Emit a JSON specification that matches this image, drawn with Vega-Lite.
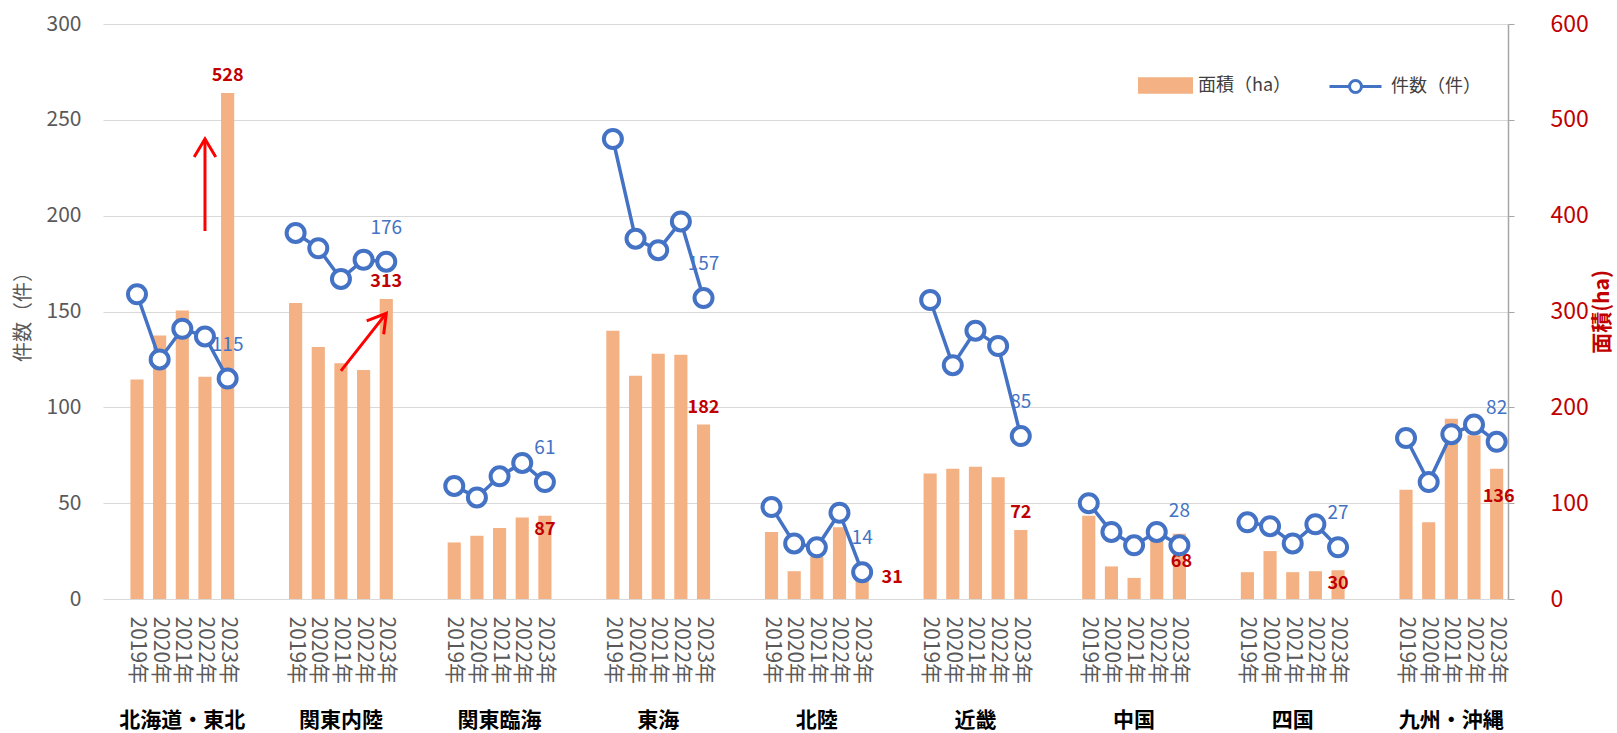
{
  "$schema": "https://vega.github.io/schema/vega-lite/v6.json",
  "autosize": {"type": "none"},
  "padding": {"left": 103, "top": 24, "right": 109, "bottom": 134},
  "width": 1405,
  "height": 575,
  "background": "white",
  "config": {
    "view": {"stroke": null},
    "font": "Noto Sans CJK JP",
    "legend": {"padding": 0, "titlePadding": 0}
  },
  "datasets": {
    "main": [
      {"k": "A2019", "region": "北海道・東北", "year": "2019", "area": 229, "count": 159},
      {"k": "A2020", "region": "北海道・東北", "year": "2020", "area": 275, "count": 125},
      {"k": "A2021", "region": "北海道・東北", "year": "2021", "area": 301, "count": 141},
      {"k": "A2022", "region": "北海道・東北", "year": "2022", "area": 232, "count": 137},
      {"k": "A2023", "region": "北海道・東北", "year": "2023", "area": 528, "count": 115},
      {"k": "B2019", "region": "関東内陸", "year": "2019", "area": 309, "count": 191},
      {"k": "B2020", "region": "関東内陸", "year": "2020", "area": 263, "count": 183},
      {"k": "B2021", "region": "関東内陸", "year": "2021", "area": 246, "count": 167},
      {"k": "B2022", "region": "関東内陸", "year": "2022", "area": 239, "count": 177},
      {"k": "B2023", "region": "関東内陸", "year": "2023", "area": 313, "count": 176},
      {"k": "C2019", "region": "関東臨海", "year": "2019", "area": 59, "count": 59},
      {"k": "C2020", "region": "関東臨海", "year": "2020", "area": 66, "count": 53},
      {"k": "C2021", "region": "関東臨海", "year": "2021", "area": 74, "count": 64},
      {"k": "C2022", "region": "関東臨海", "year": "2022", "area": 85, "count": 71},
      {"k": "C2023", "region": "関東臨海", "year": "2023", "area": 87, "count": 61},
      {"k": "D2019", "region": "東海", "year": "2019", "area": 280, "count": 240},
      {"k": "D2020", "region": "東海", "year": "2020", "area": 233, "count": 188},
      {"k": "D2021", "region": "東海", "year": "2021", "area": 256, "count": 182},
      {"k": "D2022", "region": "東海", "year": "2022", "area": 255, "count": 197},
      {"k": "D2023", "region": "東海", "year": "2023", "area": 182, "count": 157},
      {"k": "E2019", "region": "北陸", "year": "2019", "area": 70, "count": 48},
      {"k": "E2020", "region": "北陸", "year": "2020", "area": 29, "count": 29},
      {"k": "E2021", "region": "北陸", "year": "2021", "area": 44, "count": 27},
      {"k": "E2022", "region": "北陸", "year": "2022", "area": 75, "count": 45},
      {"k": "E2023", "region": "北陸", "year": "2023", "area": 31, "count": 14},
      {"k": "F2019", "region": "近畿", "year": "2019", "area": 131, "count": 156},
      {"k": "F2020", "region": "近畿", "year": "2020", "area": 136, "count": 122},
      {"k": "F2021", "region": "近畿", "year": "2021", "area": 138, "count": 140},
      {"k": "F2022", "region": "近畿", "year": "2022", "area": 127, "count": 132},
      {"k": "F2023", "region": "近畿", "year": "2023", "area": 72, "count": 85},
      {"k": "G2019", "region": "中国", "year": "2019", "area": 87, "count": 50},
      {"k": "G2020", "region": "中国", "year": "2020", "area": 34, "count": 35},
      {"k": "G2021", "region": "中国", "year": "2021", "area": 22, "count": 28},
      {"k": "G2022", "region": "中国", "year": "2022", "area": 61, "count": 35},
      {"k": "G2023", "region": "中国", "year": "2023", "area": 68, "count": 28},
      {"k": "H2019", "region": "四国", "year": "2019", "area": 28, "count": 40},
      {"k": "H2020", "region": "四国", "year": "2020", "area": 50, "count": 38},
      {"k": "H2021", "region": "四国", "year": "2021", "area": 28, "count": 29},
      {"k": "H2022", "region": "四国", "year": "2022", "area": 29, "count": 39},
      {"k": "H2023", "region": "四国", "year": "2023", "area": 30, "count": 27},
      {"k": "I2019", "region": "九州・沖縄", "year": "2019", "area": 114, "count": 84},
      {"k": "I2020", "region": "九州・沖縄", "year": "2020", "area": 80, "count": 61},
      {"k": "I2021", "region": "九州・沖縄", "year": "2021", "area": 188, "count": 86},
      {"k": "I2022", "region": "九州・沖縄", "year": "2022", "area": 171, "count": 91},
      {"k": "I2023", "region": "九州・沖縄", "year": "2023", "area": 136, "count": 82}
    ],
    "arrows": [
      {"arrow": 1, "k": "A2022", "v": 192, "end": "tail"},
      {"arrow": 1, "k": "A2022", "v": 240, "end": "head"},
      {"arrow": 2, "k": "B2021", "v": 119, "end": "tail"},
      {"arrow": 2, "k": "B2023", "v": 149, "end": "head"}
    ]
  },
  "layer": [
    {
      "data": {"name": "main"},
      "encoding": {
        "x": {
          "field": "k", "type": "nominal", "sort": null,
          "scale": {"type": "band", "paddingInner": 0.42, "paddingOuter": 0.21,
            "domain": ["_0","A2019","A2020","A2021","A2022","A2023","_A1","_A2","B2019","B2020","B2021","B2022","B2023","_B1","_B2","C2019","C2020","C2021","C2022","C2023","_C1","_C2","D2019","D2020","D2021","D2022","D2023","_D1","_D2","E2019","E2020","E2021","E2022","E2023","_E1","_E2","F2019","F2020","F2021","F2022","F2023","_F1","_F2","G2019","G2020","G2021","G2022","G2023","_G1","_G2","H2019","H2020","H2021","H2022","H2023","_H1","_H2","I2019","I2020","I2021","I2022","I2023"]},
          "axis": {
            "orient": "bottom",
            "title": null, "ticks": false, "domain": false, "grid": false,
            "labelExpr": "length(datum.value) == 5 ? substring(datum.value, 1) + '年' : ''",
            "labelAngle": 90, "labelFontSize": 21, "labelColor": "#595959",
            "labelPadding": 17, "labelOverlap": false, "labelBound": false
          }
        },
        "y": {
          "field": "area", "type": "quantitative",
          "scale": {"domain": [0, 600], "nice": false},
          "axis": {
            "orient": "right", "values": [0, 100, 200, 300, 400, 500, 600],
            "grid": false, "domain": true, "domainColor": "#A6A6A6", "domainWidth": 1.5,
            "ticks": true, "tickColor": "#A6A6A6", "tickSize": 6,
            "labelColor": "#C00000", "labelFontSize": 23, "labelPadding": 36,
            "title": "面積(ha)", "titleColor": "#C00000", "titleFontSize": 21,
            "titleFontWeight": "bold", "titleAngle": 270, "titlePadding": 24
          }
        }
      },
      "layer": [
        {
          "mark": {"type": "bar"},
          "encoding": {
            "color": {
              "datum": "面積（ha）",
              "scale": {"domain": ["面積（ha）"], "range": ["#F4B183"]},
              "legend": {
                "title": null, "orient": "none", "legendX": 1035, "legendY": 34,
                "symbolType": "M-1,-0.3H1V0.3H-1Z", "symbolSize": 3025,
                "symbolStrokeWidth": 0, "labelOffset": 5,
                "labelFontSize": 18, "labelColor": "#404040"
              }
            }
          }
        },
        {
          "transform": [{"filter": "datum.year == '2023' && indexof(['北海道・東北','関東内陸','東海','近畿'], datum.region) >= 0"}],
          "mark": {"type": "text", "fontWeight": "bold", "fontSize": 18, "color": "#C00000", "baseline": "bottom", "dy": -8},
          "encoding": {"text": {"field": "area", "type": "quantitative"}}
        },
        {
          "transform": [{"filter": "datum.year == '2023' && indexof(['関東臨海','四国'], datum.region) >= 0"}],
          "mark": {"type": "text", "fontWeight": "bold", "fontSize": 18, "color": "#C00000", "baseline": "middle", "dy": 14},
          "encoding": {"text": {"field": "area", "type": "quantitative"}}
        },
        {
          "transform": [{"filter": "datum.year == '2023' && indexof(['中国','九州・沖縄'], datum.region) >= 0"}],
          "mark": {"type": "text", "fontWeight": "bold", "fontSize": 18, "color": "#C00000", "baseline": "middle", "dy": 28, "dx": 2},
          "encoding": {"text": {"field": "area", "type": "quantitative"}}
        },
        {
          "transform": [{"filter": "datum.year == '2023' && datum.region == '北陸'"}],
          "mark": {"type": "text", "fontWeight": "bold", "fontSize": 18, "color": "#C00000", "baseline": "middle", "dy": 9, "dx": 30},
          "encoding": {"text": {"field": "area", "type": "quantitative"}}
        }
      ]
    },
    {
      "encoding": {
        "x": {
          "field": "k", "type": "nominal", "sort": null,
          "scale": {"type": "band", "paddingInner": 0.42, "paddingOuter": 0.21,
            "domain": ["_0","A2019","A2020","A2021","A2022","A2023","_A1","_A2","B2019","B2020","B2021","B2022","B2023","_B1","_B2","C2019","C2020","C2021","C2022","C2023","_C1","_C2","D2019","D2020","D2021","D2022","D2023","_D1","_D2","E2019","E2020","E2021","E2022","E2023","_E1","_E2","F2019","F2020","F2021","F2022","F2023","_F1","_F2","G2019","G2020","G2021","G2022","G2023","_G1","_G2","H2019","H2020","H2021","H2022","H2023","_H1","_H2","I2019","I2020","I2021","I2022","I2023"]},
          "axis": null
        }
      },
      "layer": [
        {
          "data": {"name": "main"},
          "encoding": {
            "y": {
              "field": "count", "type": "quantitative",
              "scale": {"domain": [0, 300], "nice": false},
              "axis": {
                "orient": "left", "values": [0, 50, 100, 150, 200, 250, 300],
                "grid": true, "gridColor": "#D9D9D9", "gridWidth": 1.2,
                "domain": false, "ticks": false,
                "labelColor": "#595959", "labelFontSize": 21, "labelPadding": 22,
                "title": "件数（件）", "titleColor": "#595959", "titleFontSize": 20,
                "titleFontWeight": "normal", "titlePadding": 13
              }
            }
          },
          "layer": [
            {
              "mark": {"type": "line", "strokeWidth": 3.5},
              "encoding": {
                "detail": {"field": "region"},
                "stroke": {
                  "datum": "件数（件）",
                  "scale": {"domain": ["件数（件）"], "range": ["#4472C4"]},
                  "legend": {
                    "title": null, "orient": "none", "legendX": 1225, "legendY": 35,
                    "symbolType": "M-1,0H-0.23M0.23,0H1M0.23,0A0.23,0.23,0,1,1,-0.23,0A0.23,0.23,0,1,1,0.23,0",
                    "symbolSize": 2704, "symbolStrokeWidth": 3, "symbolFillColor": "white",
                    "labelOffset": 8, "labelFontSize": 18, "labelColor": "#404040"
                  }
                }
              }
            },
            {
              "mark": {"type": "point", "shape": "circle", "filled": false, "fill": "white", "fillOpacity": 1, "opacity": 1, "size": 324, "strokeWidth": 4},
              "encoding": {
                "stroke": {"datum": "件数（件）", "scale": {"domain": ["件数（件）"], "range": ["#4472C4"]}}
              }
            },
            {
              "transform": [{"filter": "datum.year == '2023'"}],
              "mark": {"type": "text", "fontSize": 19, "color": "#4472C4", "baseline": "middle", "dy": -34},
              "encoding": {"text": {"field": "count", "type": "quantitative"}}
            }
          ]
        },
        {
          "data": {"name": "arrows"},
          "encoding": {
            "y": {"field": "v", "type": "quantitative", "scale": {"domain": [0, 300], "nice": false}}
          },
          "layer": [
            {
              "mark": {"type": "line", "color": "#FF0000", "strokeWidth": 3},
              "encoding": {"detail": {"field": "arrow"}}
            },
            {
              "transform": [{"filter": "datum.end == 'head' && datum.arrow == 1"}],
              "mark": {"type": "point", "shape": "M-0.6,1L0,0L0.6,1", "size": 1296, "filled": false, "color": "#FF0000", "strokeWidth": 3, "opacity": 1, "angle": 0}
            },
            {
              "transform": [{"filter": "datum.end == 'head' && datum.arrow == 2"}],
              "mark": {"type": "point", "shape": "M-0.6,1L0,0L0.6,1", "size": 1296, "filled": false, "color": "#FF0000", "strokeWidth": 3, "opacity": 1, "angle": 38}
            }
          ]
        }
      ]
    },
    {
      "data": {"name": "main"},
      "transform": [{"filter": "datum.year == '2021'"}],
      "mark": {"type": "point", "opacity": 0},
      "encoding": {
        "x": {
          "field": "k", "type": "nominal", "sort": null,
          "scale": {"type": "band", "paddingInner": 0.42, "paddingOuter": 0.21,
            "domain": ["_0","A2019","A2020","A2021","A2022","A2023","_A1","_A2","B2019","B2020","B2021","B2022","B2023","_B1","_B2","C2019","C2020","C2021","C2022","C2023","_C1","_C2","D2019","D2020","D2021","D2022","D2023","_D1","_D2","E2019","E2020","E2021","E2022","E2023","_E1","_E2","F2019","F2020","F2021","F2022","F2023","_F1","_F2","G2019","G2020","G2021","G2022","G2023","_G1","_G2","H2019","H2020","H2021","H2022","H2023","_H1","_H2","I2019","I2020","I2021","I2022","I2023"]},
          "axis": {
            "orient": "bottom",
            "title": null, "ticks": false, "domain": false, "grid": false,
            "labelExpr": "substring(datum.value, 1) == '2021' ? ['北海道・東北','関東内陸','関東臨海','東海','北陸','近畿','中国','四国','九州・沖縄'][indexof('ABCDEFGHI', substring(datum.value, 0, 1))] : ''",
            "labelAngle": 0, "labelFontSize": 21, "labelFontWeight": "bold", "labelColor": "#000000",
            "labelPadding": 110, "labelBaseline": "top", "labelAlign": "center",
            "labelOverlap": false, "labelBound": false, "labelFlush": false
          }
        }
      }
    }
  ],
  "resolve": {"scale": {"y": "independent"}, "axis": {"x": "independent"}}
}
